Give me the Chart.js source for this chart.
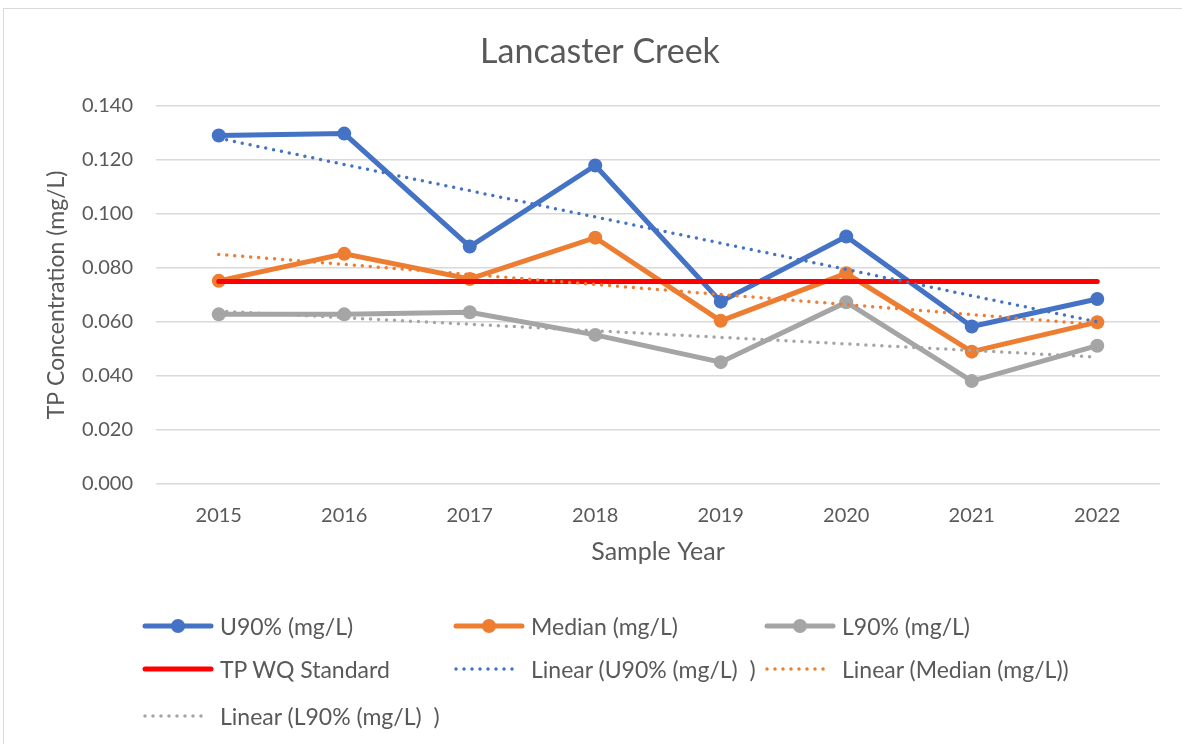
<!DOCTYPE html>
<html>
<head>
<meta charset="utf-8">
<script src="https://cdn.jsdelivr.net/npm/chart.js@4"></script>
<style>
  html, body { margin: 0; padding: 0; background: #fff; }
  #wrap { position: relative; width: 1182px; height: 744px; overflow: hidden; font-family: Lato, sans-serif; }
  #frame { position: absolute; left: 3px; top: 8px; width: 1200px; height: 800px; border: 1px solid #d9d9d9; box-sizing: border-box; }
  #chart { position: absolute; left: 0; top: 0; }
  .item { position: absolute; height: 30px; display: flex; align-items: center; color: #595959; font-size: 23px; white-space: pre; }
  .item svg { margin-right: 6px; }
</style>
</head>
<body>
<div id="wrap">
  <div id="frame"></div>
  <canvas id="chart" width="1182" height="744"></canvas>
  <div id="legend"></div>
</div>
<script>
// Sample years and TP concentrations
const years = ['2015', '2016', '2017', '2018', '2019', '2020', '2021', '2022'];
const u90 = [0.129, 0.1297, 0.0879, 0.1179, 0.0675, 0.0916, 0.0583, 0.0685];
const median = [0.0752, 0.0852, 0.0759, 0.0912, 0.0604, 0.078, 0.049, 0.0599];
const l90 = [0.0628, 0.0628, 0.0636, 0.0552, 0.0451, 0.0673, 0.0381, 0.0512];
const standard = [0.075, 0.075, 0.075, 0.075, 0.075, 0.075, 0.075, 0.075];
// trendline end points (first and last year only)
const u90Trend = [0.128, null, null, null, null, null, null, 0.060];
const medianTrend = [0.085, null, null, null, null, null, null, 0.059];
const l90Trend = [0.064, null, null, null, null, null, null, 0.047];
const yTicks = [0, 0.02, 0.04, 0.06, 0.08, 0.1, 0.12, 0.14];

const BLUE = '#4472C4', ORANGE = '#ED7D31', GRAY = '#A5A5A5', RED = '#FF0000';
const TEXT = '#595959';

function series(label, data, color, order) {
    return {
        label, data, borderColor: color, backgroundColor: color,
        borderWidth: 5, pointRadius: 7, pointHoverRadius: 7, pointBorderWidth: 0,
        tension: 0, order, kind: 'marker'
    };
}
function trend(label, data, color, order) {
    return {
        label, data, borderColor: color, backgroundColor: color,
        borderWidth: 3.5, borderDash: [0, 8], borderCapStyle: 'round',
        pointRadius: 0, spanGaps: true, order, kind: 'dots'
    };
}

const datasets = [
    series('U90% (mg/L)', u90, BLUE, 7),
    series('Median (mg/L)', median, ORANGE, 6),
    series('L90% (mg/L)', l90, GRAY, 5),
    { label: 'TP WQ Standard', data: standard, borderColor: RED, backgroundColor: RED,
      borderWidth: 5, pointRadius: 0, borderCapStyle: 'round', order: 4, kind: 'line' },
    trend('Linear (U90% (mg/L)  )', u90Trend, BLUE, 3),
    trend('Linear (Median (mg/L))', medianTrend, ORANGE, 2),
    trend('Linear (L90% (mg/L)  )', l90Trend, GRAY, 1)
];

Chart.defaults.font.family = 'Lato, sans-serif';
Chart.defaults.color = TEXT;

new Chart(document.getElementById('chart'), {
    type: 'line',
    data: { labels: years, datasets },
    options: {
        responsive: false,
        animation: false,
        layout: { padding: { top: 14, left: 40, right: 22, bottom: 177 } },
        plugins: {
            legend: { display: false },
            tooltip: { enabled: false },
            title: {
                display: true, text: 'Lancaster Creek', color: TEXT,
                font: { size: 34, weight: 'normal' },
                padding: { top: 18, bottom: 33 }
            }
        },
        scales: {
            x: {
                offset: true,
                grid: { display: false, drawTicks: false },
                border: { display: false },
                ticks: { padding: 20, font: { size: 20 }, color: TEXT },
                title: { display: true, text: 'Sample Year', font: { size: 25 }, color: TEXT, padding: 0 },
                afterFit: s => { s.height = 83; }
            },
            y: {
                min: 0, max: 0.14,
                afterBuildTicks: s => { s.ticks = yTicks.map(v => ({ value: v })); },
                grid: { color: '#D9D9D9', lineWidth: 1.5, drawTicks: false },
                border: { display: false },
                ticks: { padding: 23, font: { size: 20 }, color: TEXT, callback: v => v.toFixed(3) },
                title: { display: true, text: 'TP Concentration (mg/L)', font: { size: 23 }, color: TEXT, padding: { top: 3, bottom: 0 } },
                afterFit: s => { s.width = 116; }
            }
        }
    }
});

// legend laid out in Excel's column grid
const legendPos = [[142, 611], [453, 611], [764, 611], [142, 654], [453, 654], [764, 654], [142, 701]];
const legend = document.getElementById('legend');
datasets.forEach((ds, i) => {
    const el = document.createElement('div');
    el.className = 'item';
    el.style.left = legendPos[i][0] + 'px';
    el.style.top = legendPos[i][1] + 'px';
    let svg = '<svg width="72" height="16">';
    if (ds.kind === 'dots') {
        svg += `<line x1="3" y1="8" x2="66" y2="8" stroke="${ds.borderColor}" stroke-width="3.5" stroke-linecap="round" stroke-dasharray="0 8"/>`;
    } else {
        svg += `<line x1="3" y1="8" x2="69" y2="8" stroke="${ds.borderColor}" stroke-width="5" stroke-linecap="round"/>`;
        if (ds.kind === 'marker') svg += `<circle cx="36" cy="8" r="7" fill="${ds.borderColor}"/>`;
    }
    svg += '</svg>';
    el.innerHTML = svg;
    const span = document.createElement('span');
    span.textContent = ds.label;
    el.appendChild(span);
    legend.appendChild(el);
});
</script>
</body>
</html>
